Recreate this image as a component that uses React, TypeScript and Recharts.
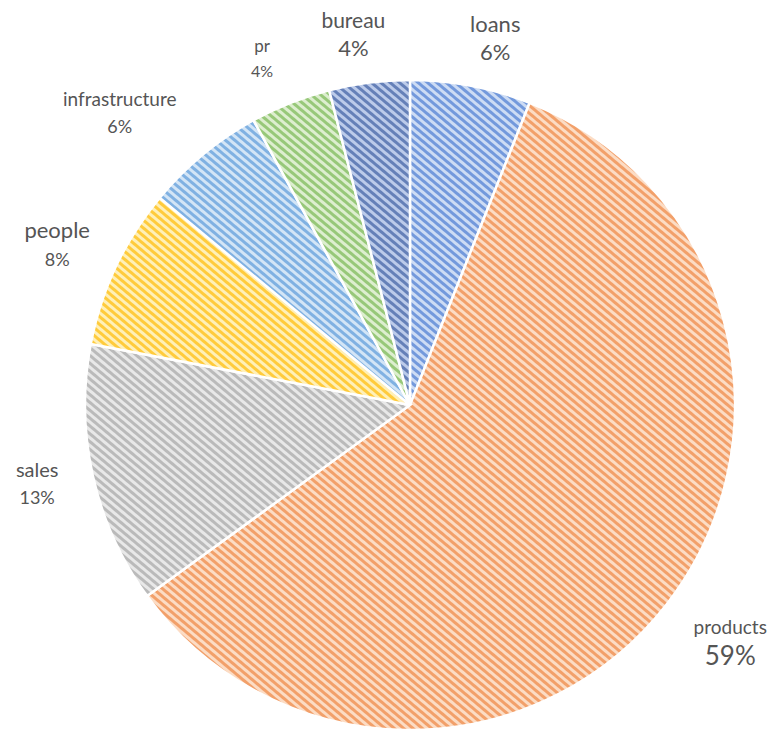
import React from 'react';
import { PieChart, Pie, Cell } from 'recharts';

const categories = ['loans', 'products', 'sales', 'people', 'infrastructure', 'pr', 'bureau'];
const shares = [6, 59, 13, 8, 6, 4, 4];
const percentLabels = ['6%', '59%', '13%', '8%', '6%', '4%', '4%'];

const data = categories.map((name, i) => ({ name, value: shares[i], pct: percentLabels[i] }));

const sliceStyle: Record<string, { bg: string; stripe: string }> = {
  loans: { bg: '#cddcf4', stripe: '#7399dc' },
  products: { bg: '#fcdcc4', stripe: '#f2a06a' },
  sales: { bg: '#e8e8e8', stripe: '#bababa' },
  people: { bg: '#fff0b8', stripe: '#ffcb3c' },
  infrastructure: { bg: '#d3e5f6', stripe: '#80b1e2' },
  pr: { bg: '#ddeecf', stripe: '#97c879' },
  bureau: { bg: '#bccbea', stripe: '#6580b8' },
};

const labelStyle: Record<string, { dx: number; dy: number; nameSize: number; pctSize: number; gap: number }> = {
  loans: { dx: 14, dy: 6, nameSize: 22, pctSize: 22, gap: 28 },
  products: { dx: 20, dy: 3, nameSize: 19, pctSize: 26, gap: 28 },
  sales: { dx: -2, dy: -5, nameSize: 20, pctSize: 18, gap: 28 },
  people: { dx: -9, dy: 1, nameSize: 22, pctSize: 18, gap: 29 },
  infrastructure: { dx: -48, dy: 0, nameSize: 19, pctSize: 18, gap: 28 },
  pr: { dx: -8, dy: 6, nameSize: 17, pctSize: 16, gap: 25 },
  bureau: { dx: -9, dy: 6, nameSize: 21, pctSize: 22, gap: 28 },
};

const RAD = Math.PI / 180;

const renderLabel = (props: any) => {
  const { cx, cy, midAngle, outerRadius, payload, name } = props;
  const key = name ?? payload?.name;
  const st = labelStyle[key];
  const r = outerRadius + 55;
  const x = cx + r * Math.cos(-midAngle * RAD) + st.dx;
  const y = cy + r * Math.sin(-midAngle * RAD) + st.dy;
  const pct = payload?.pct ?? props.pct;
  return (
    <g>
      <text x={x} y={y - st.gap / 2} textAnchor="middle" dominantBaseline="central" fill="#555555" fontSize={st.nameSize} fontFamily="Lato, 'Open Sans', sans-serif">
        {key}
      </text>
      <text x={x} y={y + st.gap / 2} textAnchor="middle" dominantBaseline="central" fill="#555555" fontSize={st.pctSize} fontFamily="Lato, 'Open Sans', sans-serif">
        {pct}
      </text>
    </g>
  );
};

export default function App() {
  return (
    <div style={{ position: 'absolute', left: 0, top: 0, width: 774, height: 729, background: '#fff' }}>
      <PieChart width={774} height={729} margin={{ top: 0, right: 0, bottom: 0, left: 0 }}>
        <defs>
          {categories.map((c) => (
            <pattern
              key={c}
              id={`hatch-${c}`}
              patternUnits="userSpaceOnUse"
              width={6}
              height={6}
              patternTransform="rotate(-50)"
            >
              <rect x={0} y={0} width={6} height={6} fill={sliceStyle[c].bg} />
              <rect x={0} y={0} width={3} height={6} fill={sliceStyle[c].stripe} />
            </pattern>
          ))}
        </defs>
        <Pie
          data={data}
          dataKey="value"
          nameKey="name"
          cx={410}
          cy={405}
          outerRadius={325}
          startAngle={90}
          endAngle={-270}
          stroke="#ffffff"
          strokeWidth={2.5}
          isAnimationActive={false}
          labelLine={false}
          label={renderLabel}
        >
          {data.map((d) => (
            <Cell key={d.name} fill={`url(#hatch-${d.name})`} />
          ))}
        </Pie>
      </PieChart>
    </div>
  );
}
